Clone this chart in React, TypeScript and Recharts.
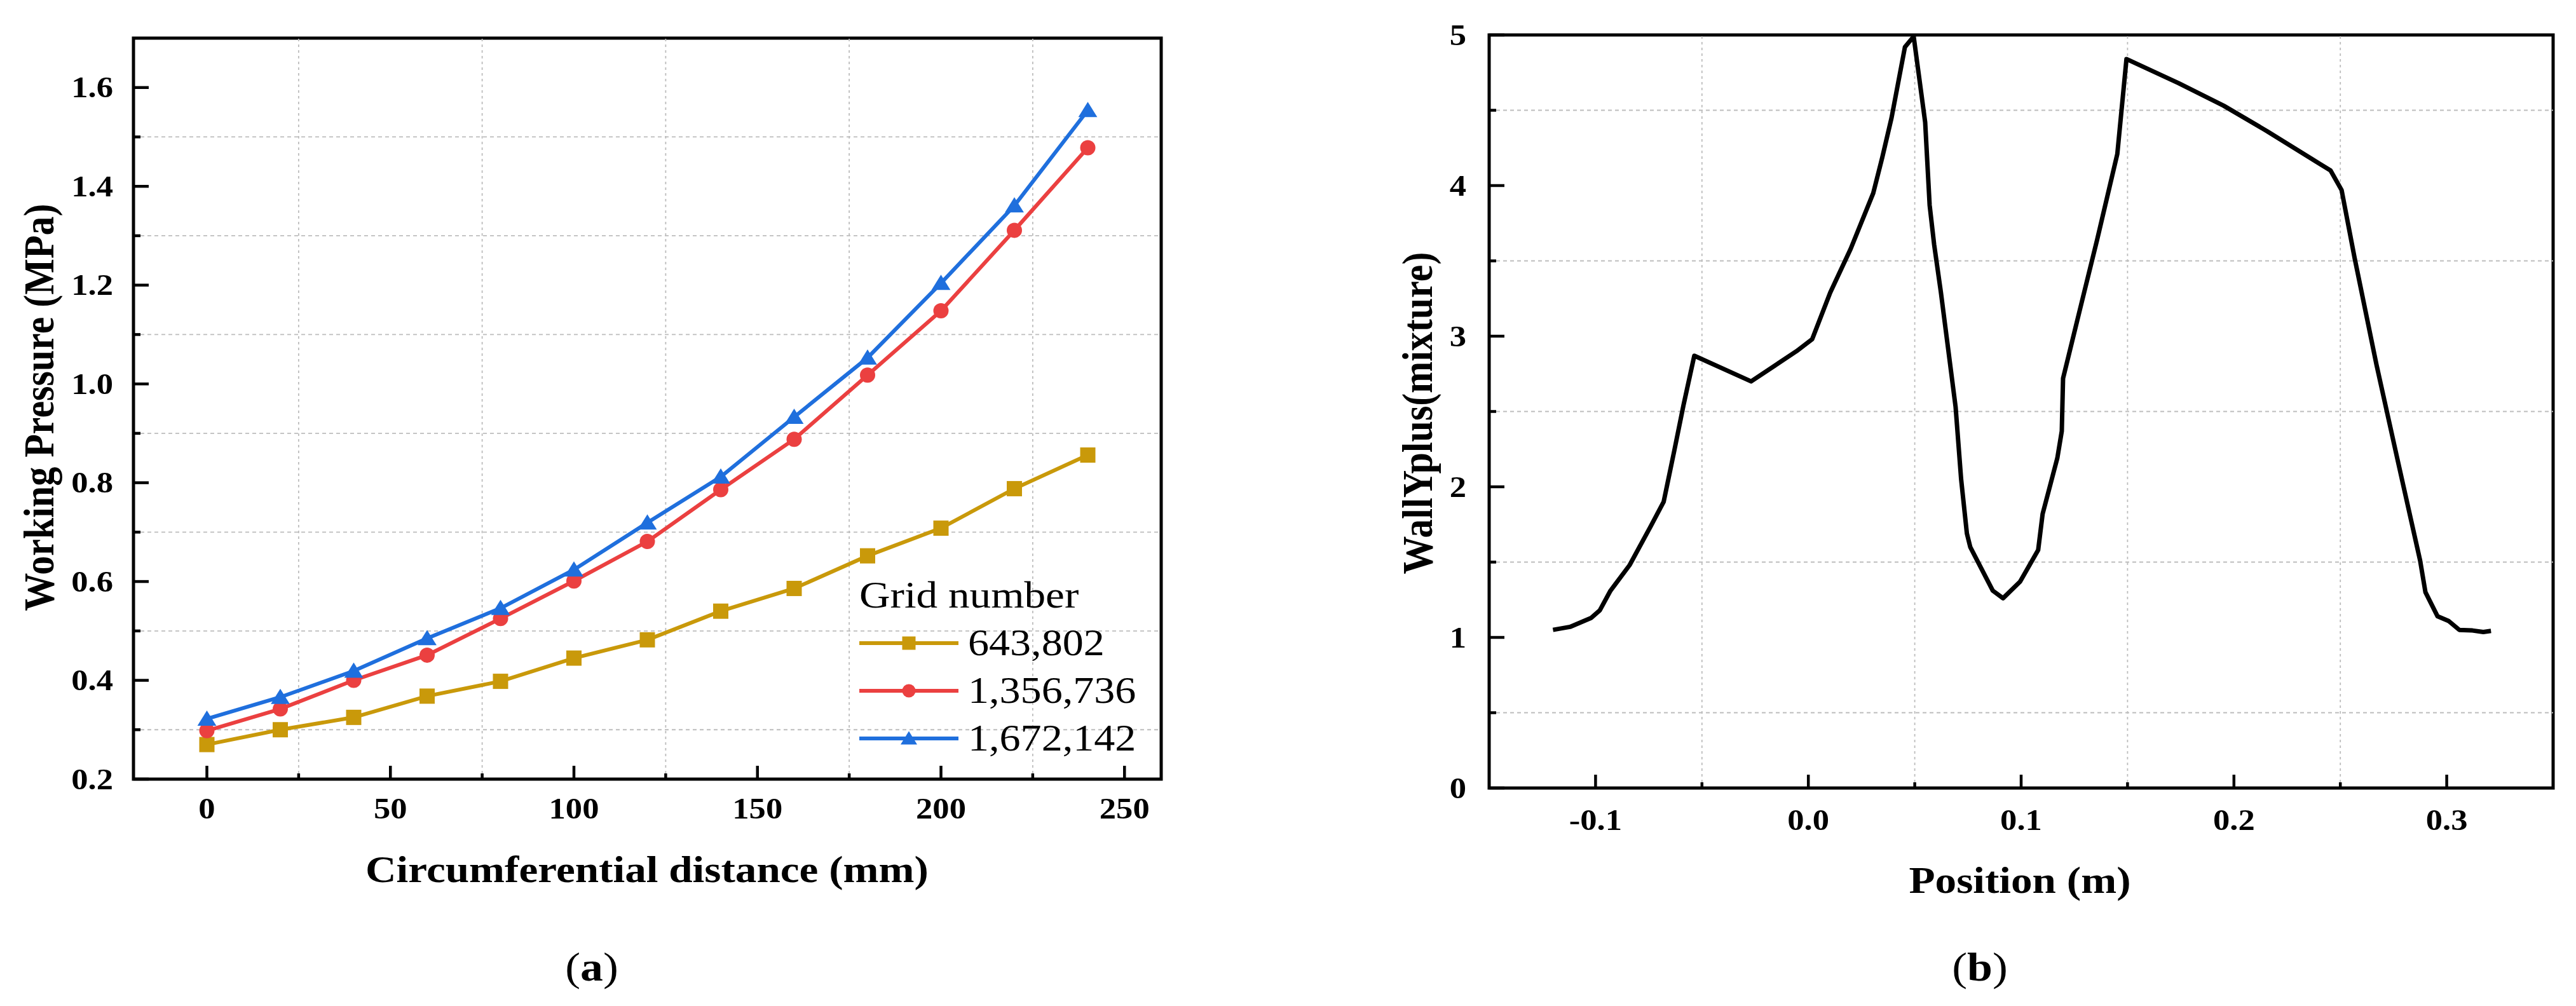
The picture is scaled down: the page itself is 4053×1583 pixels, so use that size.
import React from 'react'
import { LineChart, Line, XAxis, YAxis, ReferenceLine, ReferenceArea, Legend } from 'recharts'

const FONT = '"Liberation Serif", "Times New Roman", Times, serif'
const STRETCH = 1.12

// (a) working pressure vs circumferential distance
const distanceMm = [0, 20, 40, 60, 80, 100, 120, 140, 160, 180, 200, 220, 240]
const grid643802 = [0.27, 0.3, 0.325, 0.368, 0.398, 0.445, 0.482, 0.54, 0.586, 0.652, 0.708, 0.788, 0.856]
const grid1356736 = [0.298, 0.342, 0.4, 0.451, 0.525, 0.601, 0.681, 0.786, 0.888, 1.018, 1.148, 1.311, 1.478]
const grid1672142 = [0.322, 0.366, 0.419, 0.485, 0.546, 0.624, 0.719, 0.812, 0.933, 1.053, 1.204, 1.361, 1.554]
const gridNames = ['643,802', '1,356,736', '1,672,142']

const aXMajor = [0, 50, 100, 150, 200, 250]
const aXMinor = [25, 75, 125, 175, 225]
const aYMajor = [0.2, 0.4, 0.6, 0.8, 1.0, 1.2, 1.4, 1.6]
const aYMinor = [0.3, 0.5, 0.7, 0.9, 1.1, 1.3, 1.5]
const aXDomain = [-20, 260]
const aYDomain = [0.2, 1.7]

// (b) wall y+ along position
const positionM = [
  -0.12, -0.112, -0.102, -0.098, -0.093, -0.084, -0.074, -0.068, -0.063, -0.0587, -0.0536,
  -0.0269, -0.0056, 0.0018, 0.0103, 0.0199, 0.0305, 0.0348, 0.0391, 0.0454, 0.0495,
  0.0549, 0.057, 0.0591, 0.0623, 0.0692, 0.0718, 0.0745, 0.0761, 0.0867, 0.0915,
  0.0995, 0.108, 0.1101, 0.117, 0.1191, 0.1197, 0.1282, 0.1357, 0.1452, 0.1495,
  0.174, 0.1952, 0.2157, 0.2362, 0.2454, 0.2506, 0.2567, 0.267, 0.2772, 0.2875,
  0.29, 0.2957, 0.3008, 0.3059, 0.3121, 0.3172, 0.3208
]
const wallYplus = [
  1.05, 1.07, 1.13, 1.18, 1.31, 1.48, 1.74, 1.9, 2.24, 2.54, 2.87,
  2.7, 2.9, 2.98, 3.29, 3.58, 3.95, 4.19, 4.45, 4.92, 4.99,
  4.42, 3.87, 3.61, 3.29, 2.53, 2.05, 1.69, 1.6, 1.31, 1.26,
  1.37, 1.58, 1.82, 2.19, 2.37, 2.72, 3.21, 3.64, 4.21, 4.84,
  4.68, 4.53, 4.36, 4.18, 4.1, 3.97, 3.52, 2.81, 2.16, 1.51,
  1.3, 1.14, 1.11, 1.05, 1.046, 1.036, 1.043
]

const bXMajor = [-0.1, 0, 0.1, 0.2, 0.3]
const bXMinor = [-0.05, 0.05, 0.15, 0.25]
const bYMajor = [0, 1, 2, 3, 4, 5]
const bYMinor = [0.5, 1.5, 2.5, 3.5, 4.5]
const bXDomain = [-0.15, 0.35]
const bYDomain = [0, 5]

const pressureData = distanceMm.map((x, i) => ({
  x,
  s1: grid643802[i],
  s2: grid1356736[i],
  s3: grid1672142[i]
}))

const wallData = positionM.map((x, i) => ({ x, y: wallYplus[i] }))

const SERIES = [
  { key: 's1', name: gridNames[0], color: '#C9990A', shape: 'square' },
  { key: 's2', name: gridNames[1], color: '#EB4040', shape: 'circle' },
  { key: 's3', name: gridNames[2], color: '#1F6FDD', shape: 'triangle' }
]

function Marker({ cx, cy, shape, color, size = 24 }: { cx: number; cy: number; shape: string; color: string; size?: number }) {
  const h = size / 2
  if (shape === 'square') return <rect x={cx - h} y={cy - h} width={size} height={size} fill={color} />
  if (shape === 'circle') return <circle cx={cx} cy={cy} r={h} fill={color} />
  const w = size * 0.62
  return <polygon points={`${cx},${cy - h * 1.1} ${cx - w},${cy + h * 0.9} ${cx + w},${cy + h * 0.9}`} fill={color} />
}

const tickText = { fontFamily: FONT, fontWeight: 700, fontSize: 47, fill: '#000' }

function xTick(majors: number[], labelOffset: number, fmt: (v: number) => string) {
  return (props: any) => {
    const { x, y, payload } = props
    const major = majors.includes(payload.value)
    return (
      <g>
        <line x1={x} x2={x} y1={y} y2={y - (major ? 21 : 9)} stroke="#000" strokeWidth={4.5} />
        {major && (
          <text
            transform={`translate(${x},${y + labelOffset}) scale(${STRETCH},1)`}
            textAnchor="middle"
            dominantBaseline="central"
            style={tickText}
          >
            {fmt(payload.value)}
          </text>
        )}
      </g>
    )
  }
}

function yTick(majors: number[], labelGap: number, fmt: (v: number) => string) {
  return (props: any) => {
    const { x, y, payload } = props
    const major = majors.includes(payload.value)
    return (
      <g>
        <line x1={x} x2={x + (major ? 24 : 11)} y1={y} y2={y} stroke="#000" strokeWidth={4.5} />
        {major && (
          <text
            transform={`translate(${x - labelGap},${y}) scale(${STRETCH},1)`}
            textAnchor="end"
            dominantBaseline="central"
            style={tickText}
          >
            {fmt(payload.value)}
          </text>
        )}
      </g>
    )
  }
}

function PressureLegend() {
  return (
    <div style={{ fontFamily: FONT, color: '#000' }}>
      <div style={{ height: 76, display: 'flex', alignItems: 'center', fontSize: 60, transform: `scaleX(${STRETCH})`, transformOrigin: 'left center', whiteSpace: 'nowrap' }}>
        Grid number
      </div>
      {SERIES.map(s => (
        <div key={s.key} style={{ height: 75, display: 'flex', alignItems: 'center' }}>
          <svg width={156} height={40} style={{ display: 'block' }}>
            <line x1={0} x2={156} y1={20} y2={20} stroke={s.color} strokeWidth={6} />
            <Marker cx={78} cy={20} shape={s.shape} color={s.color} size={21} />
          </svg>
          <span style={{ marginLeft: 15, fontSize: 59, transform: `scaleX(${STRETCH})`, transformOrigin: 'left center', whiteSpace: 'nowrap' }}>
            {s.name}
          </span>
        </div>
      ))}
    </div>
  )
}

const titleStyle: React.CSSProperties = {
  position: 'absolute',
  fontFamily: FONT,
  fontWeight: 700,
  fontSize: 60,
  whiteSpace: 'nowrap',
  color: '#000',
  lineHeight: 1
}

function Title({ x, y, text, rotate }: { x: number; y: number; text: string; rotate?: boolean }) {
  return (
    <div
      style={{
        ...titleStyle,
        left: x,
        top: y,
        transform: rotate
          ? `translate(-50%,-50%) rotate(-90deg) scale(1,${STRETCH})`
          : `translate(-50%,-50%) scale(${STRETCH},1)`
      }}
    >
      {text}
    </div>
  )
}

function Caption({ x, y, letter }: { x: number; y: number; letter: string }) {
  return (
    <div style={{ ...titleStyle, fontWeight: 400, fontSize: 64, left: x, top: y, transform: `translate(-50%,-50%) scale(${STRETCH},1)` }}>
      (<b>{letter}</b>)
    </div>
  )
}

const gridV = { stroke: '#bdbdbd', strokeWidth: 1.8, strokeDasharray: '4 5' }
const gridH = { stroke: '#bdbdbd', strokeWidth: 1.8, strokeDasharray: '6 5' }

export default function App() {
  return (
    <div style={{ position: 'absolute', left: 0, top: 0, width: 4053, height: 1583, background: '#fff', overflow: 'hidden' }}>
      <div style={{ position: 'absolute', left: 0, top: 0 }}>
        <LineChart width={1900} height={1583} data={pressureData} margin={{ top: 60, right: 73, bottom: 297, left: 110 }}>
          <XAxis
            dataKey="x"
            type="number"
            domain={aXDomain}
            ticks={[...aXMajor, ...aXMinor]}
            interval={0}
            height={60}
            axisLine={false}
            tickLine={false}
            tickSize={0}
            tickMargin={0}
            tick={xTick(aXMajor, 46, v => String(v))}
          />
          <YAxis
            type="number"
            domain={aYDomain}
            ticks={[...aYMajor, ...aYMinor]}
            interval={0}
            width={100}
            axisLine={false}
            tickLine={false}
            tickSize={0}
            tickMargin={0}
            tick={yTick(aYMajor, 32, v => v.toFixed(1))}
          />
          {aXMinor.map(v => (
            <ReferenceLine key={'vx' + v} x={v} {...gridV} />
          ))}
          {aYMinor.map(v => (
            <ReferenceLine key={'hy' + v} y={v} {...gridH} />
          ))}
          <ReferenceArea x1={aXDomain[0]} x2={aXDomain[1]} y1={aYDomain[0]} y2={aYDomain[1]} fill="none" stroke="#000" strokeWidth={5} ifOverflow="visible" />
          {SERIES.map(s => (
            <Line
              key={s.key}
              dataKey={s.key}
              name={s.name}
              type="linear"
              stroke={s.color}
              strokeWidth={6}
              isAnimationActive={false}
              dot={(p: any) => <Marker key={s.key + p.index} cx={p.cx} cy={p.cy} shape={s.shape} color={s.color} />}
              activeDot={false}
            />
          ))}
          <Legend
            layout="vertical"
            align="center"
            verticalAlign="middle"
            wrapperStyle={{ left: 1352, top: 898, width: 620 }}
            content={() => <PressureLegend />}
          />
        </LineChart>
      </div>

      <div style={{ position: 'absolute', left: 2150, top: 0 }}>
        <LineChart width={1903} height={1583} data={wallData} margin={{ top: 55, right: 36, bottom: 283, left: 93 }}>
          <XAxis
            dataKey="x"
            type="number"
            domain={bXDomain}
            ticks={[...bXMajor, ...bXMinor]}
            interval={0}
            height={60}
            axisLine={false}
            tickLine={false}
            tickSize={0}
            tickMargin={0}
            tick={xTick(bXMajor, 50, v => v.toFixed(1))}
          />
          <YAxis
            type="number"
            domain={bYDomain}
            ticks={[...bYMajor, ...bYMinor]}
            interval={0}
            width={100}
            axisLine={false}
            tickLine={false}
            tickSize={0}
            tickMargin={0}
            tick={yTick(bYMajor, 36, v => String(v))}
          />
          {bXMinor.map(v => (
            <ReferenceLine key={'vx' + v} x={v} {...gridV} />
          ))}
          {bYMinor.map(v => (
            <ReferenceLine key={'hy' + v} y={v} {...gridH} />
          ))}
          <ReferenceArea x1={bXDomain[0]} x2={bXDomain[1]} y1={bYDomain[0]} y2={bYDomain[1]} fill="none" stroke="#000" strokeWidth={5} ifOverflow="visible" />
          <Line
            dataKey="y"
            type="linear"
            stroke="#000"
            strokeWidth={7}
            strokeLinejoin="round"
            dot={false}
            activeDot={false}
            isAnimationActive={false}
          />
        </LineChart>
      </div>

      <Title x={62} y={641} text="Working Pressure (MPa)" rotate />
      <Title x={1018} y={1368} text="Circumferential distance (mm)" />
      <Caption x={931} y={1522} letter="a" />

      <Title x={2231} y={650} text="WallYplus(mixture)" rotate />
      <Title x={3178} y={1385} text="Position (m)" />
      <Caption x={3115} y={1522} letter="b" />
    </div>
  )
}
